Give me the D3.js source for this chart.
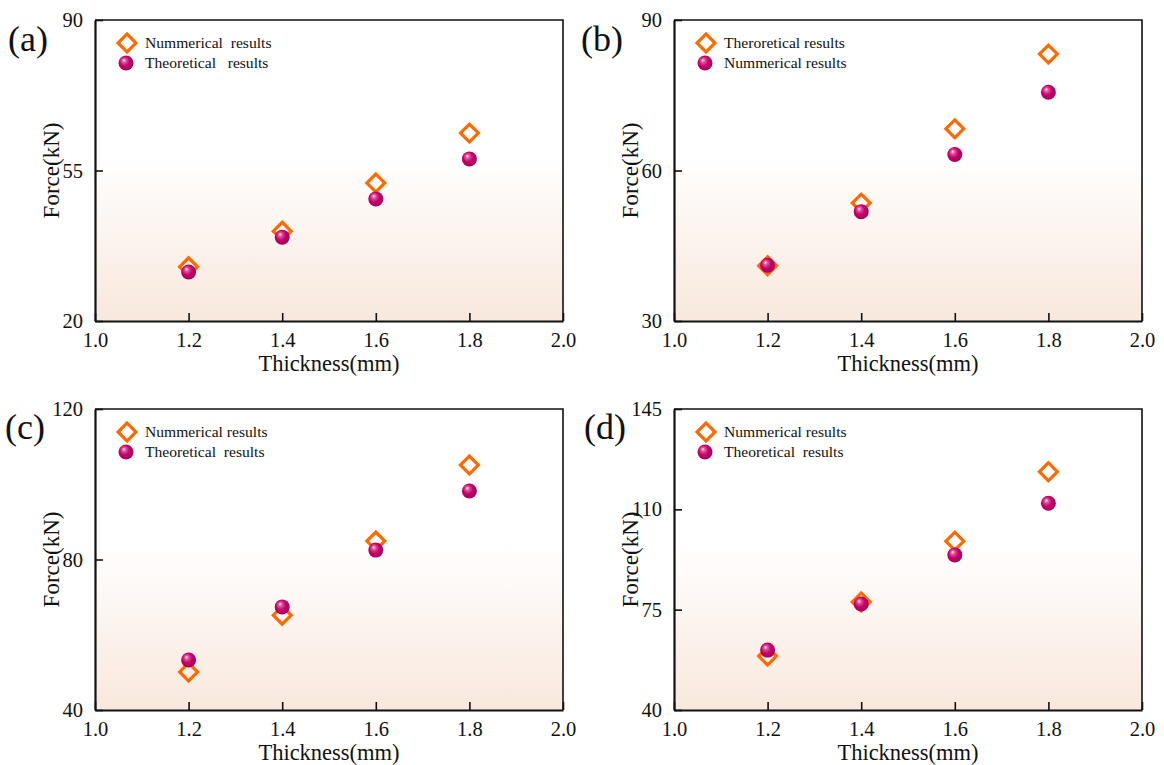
<!DOCTYPE html>
<html>
<head>
<meta charset="utf-8">
<script src="https://cdn.jsdelivr.net/npm/d3@7"></script>
<style>
  html, body { margin: 0; padding: 0; background: #fff; }
  svg text { font-family: "Liberation Serif", "Times New Roman", serif; fill: #111; }
</style>
</head>
<body>
<svg id="chart" width="1164" height="765"></svg>
<script>
// Plate thickness (mm) shared by all four panels
const thickness = [1.2, 1.4, 1.6, 1.8];
const xTicks = [1.0, 1.2, 1.4, 1.6, 1.8, 2.0];

// Panel (a)
const aDiamond = [32.6, 40.9, 52.1, 63.7];
const aCircle  = [31.4, 39.5, 48.4, 57.7];
const aTicks   = [20, 55, 90];
const aLegend  = ["Nummerical  results", "Theoretical   results"];

// Panel (b)
const bDiamond = [41.0, 53.5, 68.3, 83.2];
const bCircle  = [41.1, 51.8, 63.2, 75.6];
const bTicks   = [30, 60, 90];
const bLegend  = ["Theroretical results", "Nummerical results"];

// Panel (c)
const cDiamond = [50.1, 65.2, 84.9, 105.1];
const cCircle  = [53.3, 67.4, 82.5, 98.2];
const cTicks   = [40, 80, 120];
const cLegend  = ["Nummerical results", "Theoretical  results"];

// Panel (d)
const dDiamond = [58.8, 77.7, 98.9, 123.1];
const dCircle  = [60.9, 77.0, 94.1, 112.1];
const dTicks   = [40, 75, 110, 145];
const dLegend  = ["Nummerical results", "Theoretical  results"];

const panels = [
  { tag: "(a)", diamond: aDiamond, circle: aCircle, ticks: aTicks, legend: aLegend, x0: 95,  y0: 20,  tagX: 8,   tagY: 51 },
  { tag: "(b)", diamond: bDiamond, circle: bCircle, ticks: bTicks, legend: bLegend, x0: 674, y0: 20,  tagX: 581, tagY: 51 },
  { tag: "(c)", diamond: cDiamond, circle: cCircle, ticks: cTicks, legend: cLegend, x0: 95,  y0: 409, tagX: 5,   tagY: 439 },
  { tag: "(d)", diamond: dDiamond, circle: dCircle, ticks: dTicks, legend: dLegend, x0: 674, y0: 409, tagX: 584, tagY: 439 }
];

const W = 468, H = 301;
const orange = "#ff6a00";
const svg = d3.select("#chart");
const defs = svg.append("defs");

// Plot background: white in the upper half fading to a soft peach at the bottom
const bg = defs.append("linearGradient").attr("id", "bgGrad")
  .attr("x1", 0).attr("y1", 0).attr("x2", 0).attr("y2", 1);
bg.append("stop").attr("offset", "0%").attr("stop-color", "#ffffff");
bg.append("stop").attr("offset", "45%").attr("stop-color", "#ffffff");
bg.append("stop").attr("offset", "100%").attr("stop-color", "#f8e8dd");

// Glossy sphere marker
const ball = defs.append("radialGradient").attr("id", "ballGrad")
  .attr("cx", "45%").attr("cy", "45%").attr("r", "60%")
  .attr("fx", "35%").attr("fy", "30%");
ball.append("stop").attr("offset", "0%").attr("stop-color", "#ffe6f2");
ball.append("stop").attr("offset", "22%").attr("stop-color", "#e0559a");
ball.append("stop").attr("offset", "55%").attr("stop-color", "#c4006a");
ball.append("stop").attr("offset", "100%").attr("stop-color", "#a00058");

const diamondPath = d3.symbol().type(d3.symbolSquare).size(160)();

function drawDiamond(g, x, y) {
  g.append("path").attr("d", diamondPath)
    .attr("transform", `translate(${x},${y}) rotate(45)`)
    .attr("fill", "none").attr("stroke", orange).attr("stroke-width", 3.2);
}
function drawBall(g, x, y) {
  g.append("circle").attr("cx", x).attr("cy", y).attr("r", 7.5)
    .attr("fill", "url(#ballGrad)");
}

panels.forEach(p => {
  const g = svg.append("g").attr("transform", `translate(${p.x0},${p.y0})`);
  const x = d3.scaleLinear().domain([1.0, 2.0]).range([0, W]);
  const yMin = p.ticks[0], yMax = p.ticks[p.ticks.length - 1];
  const y = d3.scaleLinear().domain([yMin, yMax]).range([H, 0]);

  g.append("rect").attr("width", W).attr("height", H).attr("fill", "url(#bgGrad)");

  // Top and right frame lines
  g.append("path").attr("d", `M0,0H${W}V${H}`).attr("fill", "none")
    .attr("stroke", "#111").attr("stroke-width", 1.6);

  // Bottom axis, ticks pointing inward
  const xAxis = g.append("g").attr("transform", `translate(0,${H})`)
    .call(d3.axisBottom(x).tickValues(xTicks).tickFormat(d3.format(".1f"))
      .tickSizeInner(-8).tickSizeOuter(0).tickPadding(11));
  xAxis.select(".domain").attr("stroke", "#111").attr("stroke-width", 2.2);
  xAxis.selectAll(".tick line").attr("stroke", "#111").attr("stroke-width", 1.6);
  xAxis.selectAll(".tick text").attr("font-size", 20.5).attr("font-family", "Liberation Serif").attr("fill", "#111");

  // Left axis, ticks pointing inward
  const yAxis = g.append("g")
    .call(d3.axisLeft(y).tickValues(p.ticks).tickFormat(d3.format("d"))
      .tickSizeInner(-8).tickSizeOuter(0).tickPadding(12));
  yAxis.select(".domain").attr("stroke", "#111").attr("stroke-width", 2.2);
  yAxis.selectAll(".tick line").attr("stroke", "#111").attr("stroke-width", 1.6);
  yAxis.selectAll(".tick text").attr("font-size", 20.5).attr("font-family", "Liberation Serif").attr("fill", "#111");

  // Axis titles
  g.append("text").attr("x", W / 2).attr("y", H + 50).attr("text-anchor", "middle")
    .attr("font-size", 22.5).text("Thickness(mm)");
  g.append("text").attr("transform", `translate(-36,${H / 2}) rotate(-90)`)
    .attr("text-anchor", "middle").attr("font-size", 23).text("Force(kN)");

  // Panel tag
  svg.append("text").attr("x", p.tagX).attr("y", p.tagY).attr("font-size", 36).text(p.tag);

  // Data markers
  const marks = g.append("g");
  thickness.forEach((t, i) => drawDiamond(marks, x(t), y(p.diamond[i])));
  thickness.forEach((t, i) => drawBall(marks, x(t), y(p.circle[i])));

  // Legend
  const lg = g.append("g").attr("transform", "translate(32,23)");
  drawDiamond(lg, 0, 0);
  drawBall(lg, -1, 20);
  lg.selectAll("text.lbl").data(p.legend).join("text").attr("class", "lbl")
    .attr("x", 18).attr("y", (d, i) => i * 20 + 5)
    .attr("font-size", 15.6).style("white-space", "pre").text(d => d);
});
</script>
</body>
</html>
